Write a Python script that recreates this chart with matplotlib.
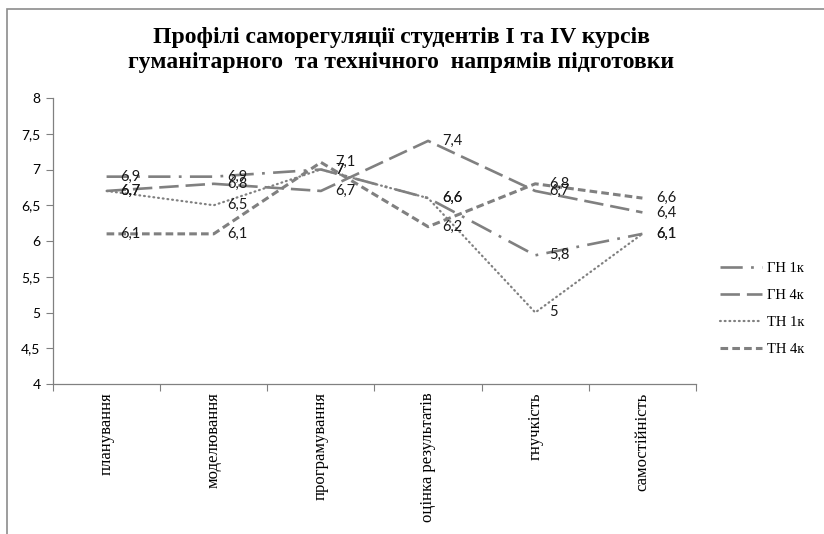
import matplotlib
matplotlib.use("Agg")
import matplotlib.pyplot as plt
from matplotlib.patches import Rectangle
from matplotlib.ticker import FuncFormatter

categories = ["планування", "моделювання", "програмування",
              "оцінка результатів", "гнучкість", "самостійність"]
gn_1k = [6.9, 6.9, 7.0, 6.6, 5.8, 6.1]
gn_4k = [6.7, 6.8, 6.7, 7.4, 6.7, 6.4]
tn_1k = [6.7, 6.5, 7.0, 6.6, 5.0, 6.1]
tn_4k = [6.1, 6.1, 7.1, 6.2, 6.8, 6.6]
series_names = ["ГН 1к", "ГН 4к", "ТН 1к", "ТН 4к"]
yticks = [4, 4.5, 5, 5.5, 6, 6.5, 7, 7.5, 8]

plt.rcParams["lines.scale_dashes"] = False
grey = "#808080"
serif = "Liberation Serif"
sans = "Lato"

fig = plt.figure(figsize=(8.24, 5.34), dpi=100)
ax = fig.add_axes([53 / 824, 1 - 384 / 534, (696 - 53) / 824, (384 - 98) / 534])

# outer chart frame (only top/left visible in the reference)
fig.patches.append(Rectangle((7 / 824, -0.1), 1.2, 1 - 9 / 534 + 0.1,
                             transform=fig.transFigure, fill=False,
                             edgecolor="#8c8c8c", linewidth=1.2))

x = list(range(len(categories)))
styles = [
    dict(linestyle=(0, (16, 6, 2, 6)), linewidth=1.9),
    dict(linestyle=(0, (14, 5)), linewidth=1.9),
    dict(linestyle=(0, (0.6, 2.8)), linewidth=1.6, dash_capstyle="round"),
    dict(linestyle=(0, (5.5, 3)), linewidth=2.2),
]
data = [gn_1k, gn_4k, tn_1k, tn_4k]
for vals, name, st in zip(data, series_names, styles):
    ax.plot(x, vals, color=grey, label=name, **st)
    for xi, v in zip(x, vals):
        txt = f"{v:g}".replace(".", ",")
        ax.annotate(txt, (xi, v), xytext=(10, 0), textcoords="offset points",
                    ha="left", va="center", fontsize=10.5, family=sans,
                    color="#1a1a1a")

ax.set_xlim(-0.5, len(categories) - 0.5)
ax.set_ylim(4, 8)
ax.set_yticks(yticks)
ax.yaxis.set_major_formatter(FuncFormatter(lambda v, p: f"{v:g}".replace(".", ",")))
for lab in ax.get_yticklabels():
    lab.set_family(sans)
    lab.set_fontsize(10)

ax.set_xticks([i + 0.5 for i in range(-1, len(categories))])
ax.set_xticklabels([])
ax.set_xticks(x, minor=True)
ax.set_xticklabels(categories, minor=True, rotation=90, family=serif,
                   fontsize=12, va="top", ha="center")
ax.tick_params(axis="x", which="minor", length=0, pad=6)
ax.tick_params(axis="both", which="major", length=5, color=grey, width=0.8)
ax.tick_params(axis="y", pad=4)

for side in ["top", "right"]:
    ax.spines[side].set_visible(False)
for side in ["left", "bottom"]:
    ax.spines[side].set_color(grey)
    ax.spines[side].set_linewidth(0.9)

fig.text(0.487, 1 - 50 / 534,
         "Профілі саморегуляції студентів І та IV курсів\n"
         "гуманітарного  та технічного  напрямів підготовки",
         ha="center", va="center", family=serif, fontweight="bold",
         fontsize=17, linespacing=1.2)

fig.legend(loc="center left", bbox_to_anchor=(720 / 824, 1 - 309 / 534),
           frameon=False, prop={"family": serif, "size": 10.5},
           handlelength=2.9, handletextpad=0.35, labelspacing=0.95,
           borderpad=0, borderaxespad=0)

fig.savefig("out.png", dpi=100)
